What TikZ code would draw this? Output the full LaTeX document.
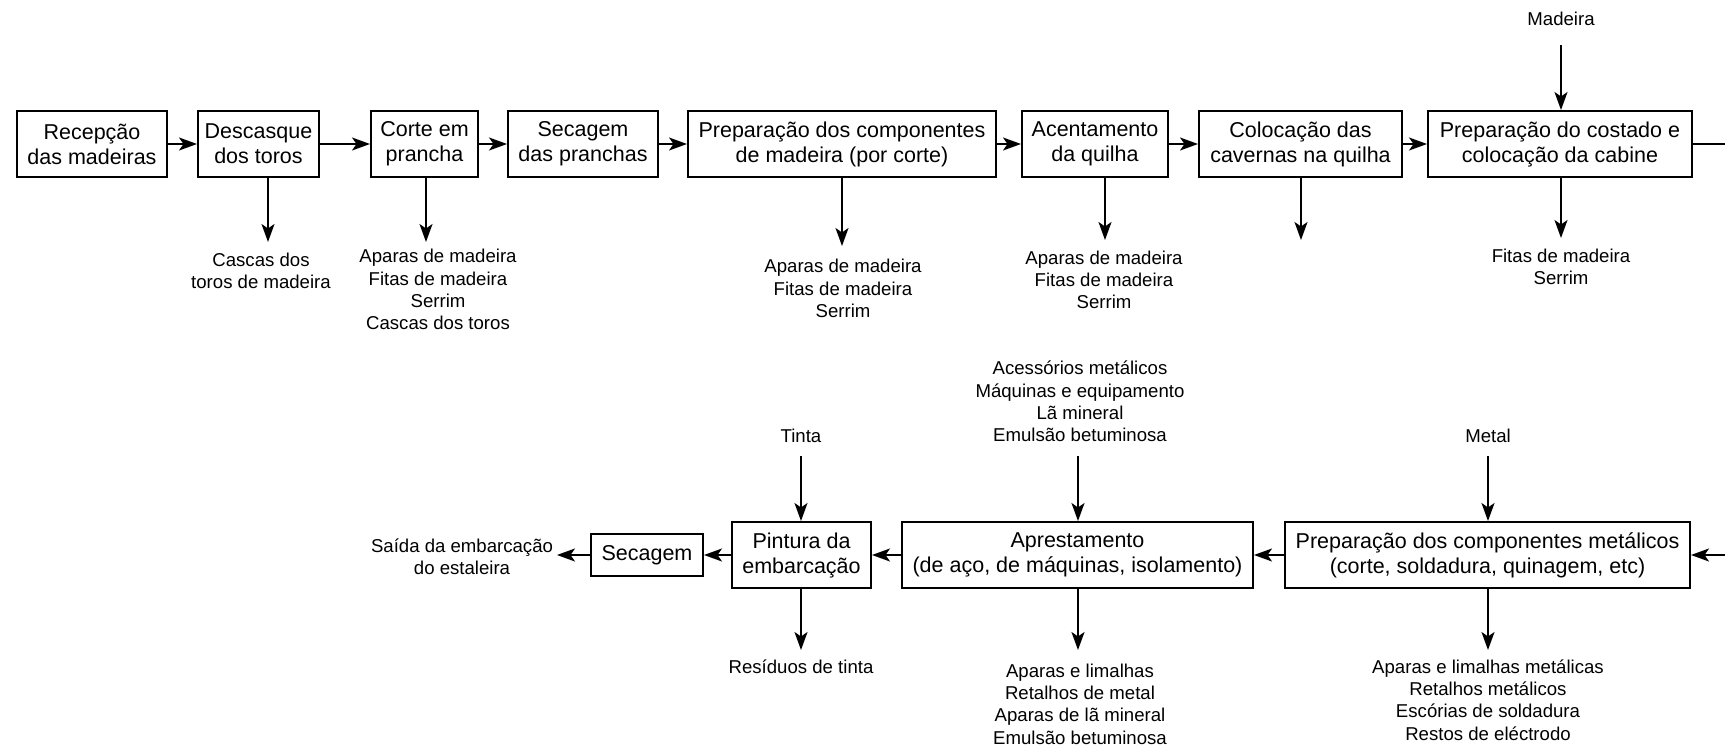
\documentclass[tikz,border=0pt]{standalone}
\usepackage{fontspec}
\setmainfont{Liberation Sans}
\usetikzlibrary{arrows.meta}
\begin{document}
\begin{tikzpicture}[x=1pt,y=-1pt,
  box/.style={draw, line width=2pt, inner sep=0pt, align=center, minimum height=66pt, font=\fontsize{21.5}{25}\selectfont},
  lbl/.style={inner sep=0pt, align=center, font=\fontsize{18.6}{22.3}\selectfont},
  arr/.style={line width=2pt, -{Stealth[length=18pt,width=13pt,inset=4.5pt]}},
  ln/.style={line width=2pt}]
\fill[white] (0,0) rectangle (1725,749);
\useasboundingbox (0,0) rectangle (1725,749);

% ---- top row ----
\node[box, minimum width=150pt] (b1) at (92,144) {Recepção\\das madeiras};
\node[box, minimum width=121pt] (b2) at (258.5,144) {Descasque\\dos toros};
\node[box, minimum width=107pt] (b3) at (424.5,144) {Corte em\\prancha};
\node[box, minimum width=150pt] (b4) at (583,144) {Secagem\\das pranchas};
\node[box, minimum width=308pt] (b5) at (842,144) {Preparação dos componentes\\de madeira (por corte)};
\node[box, minimum width=146pt] (b6) at (1095,144) {Acentamento\\da quilha};
\node[box, minimum width=203pt] (b7) at (1300.5,144) {Colocação das\\cavernas na quilha};
\node[box, minimum width=264pt] (b8) at (1560,144) {Preparação do costado e\\colocação da cabine};

\draw[arr] (b1) -- (b2);
\draw[arr] (b2) -- (b3);
\draw[arr] (b3) -- (b4);
\draw[arr] (b4) -- (b5);
\draw[arr] (b5) -- (b6);
\draw[arr] (b6) -- (b7);
\draw[arr] (b7) -- (b8);
\coordinate (e1) at (1725,144);
\draw[ln] (b8.east) -- (e1);

% outputs top
\coordinate (o2) at (268,242);
\coordinate (o3) at (426,242);
\coordinate (o5) at (842,246);
\coordinate (o6) at (1105,240);
\coordinate (o7) at (1301,240);
\coordinate (o8) at (1561,238);
\draw[arr] (b2.south -| o2) -- (o2);
\draw[arr] (b3.south -| o3) -- (o3);
\draw[arr] (b5.south -| o5) -- (o5);
\draw[arr] (b6.south -| o6) -- (o6);
\draw[arr] (b7.south -| o7) -- (o7);
\draw[arr] (b8.south -| o8) -- (o8);

\node[lbl] (l2) at (261,271) {Cascas dos\\toros de madeira};
\node[lbl] (l3) at (438,289.5) {Aparas de madeira\\Fitas de madeira\\Serrim\\Cascas dos toros};
\node[lbl] (l5) at (843,288.5) {Aparas de madeira\\Fitas de madeira\\Serrim};
\node[lbl] (l6) at (1104,280) {Aparas de madeira\\Fitas de madeira\\Serrim};
\node[lbl] (l8) at (1561,267) {Fitas de madeira\\Serrim};

% input top
\node[lbl] (mad) at (1561,19) {Madeira};
\coordinate (i8) at (1561,45);
\draw[arr] (i8) -- (i8 |- b8.north);

% ---- bottom row ----
\node[box, minimum width=405pt] (m1) at (1487.5,555) {Preparação dos componentes metálicos\\(corte, soldadura, quinagem, etc)};
\node[box, minimum width=351pt] (m2) at (1077.5,555) {Aprestamento\\(de aço, de máquinas, isolamento)};
\node[box, minimum width=139pt] (m3) at (801.5,555) {Pintura da\\embarcação};
\node[box, minimum width=112pt, minimum height=42pt] (m4) at (647,555) {Secagem};
\node[lbl] (sai) at (462,557) {Saída da embarcação\\do estaleira};

\coordinate (e2) at (1725,555);
\coordinate (sa) at (557,555);
\draw[arr] (e2) -- (m1.east);
\draw[arr] (m1.west) -- (m2.east);
\draw[arr] (m2.west) -- (m3.east);
\draw[arr] (m3.west) -- (m4.east);
\draw[arr] (m4.west) -- (sa);

% inputs bottom
\node[lbl] (met) at (1488,436) {Metal};
\node[lbl] (acc) at (1080,401.5) {Acessórios metálicos\\Máquinas e equipamento\\Lã mineral\\Emulsão betuminosa};
\node[lbl] (tin) at (801,436) {Tinta};
\coordinate (i1) at (1488,456);
\coordinate (i2) at (1078,456);
\coordinate (i3) at (801,456);
\draw[arr] (i1) -- (i1 |- m1.north);
\draw[arr] (i2) -- (i2 |- m2.north);
\draw[arr] (i3) -- (i3 |- m3.north);

% outputs bottom
\coordinate (p1) at (1488,650);
\coordinate (p2) at (1078,650);
\coordinate (p3) at (801,650);
\draw[arr] (m1.south -| p1) -- (p1);
\draw[arr] (m2.south -| p2) -- (p2);
\draw[arr] (m3.south -| p3) -- (p3);
\node[lbl] (q1) at (1488,700) {Aparas e limalhas metálicas\\Retalhos metálicos\\Escórias de soldadura\\Restos de eléctrodo};
\node[lbl] (q2) at (1080,704) {Aparas e limalhas\\Retalhos de metal\\Aparas de lã mineral\\Emulsão betuminosa};
\node[lbl] (q3) at (801,667) {Resíduos de tinta};
\end{tikzpicture}
\end{document}
